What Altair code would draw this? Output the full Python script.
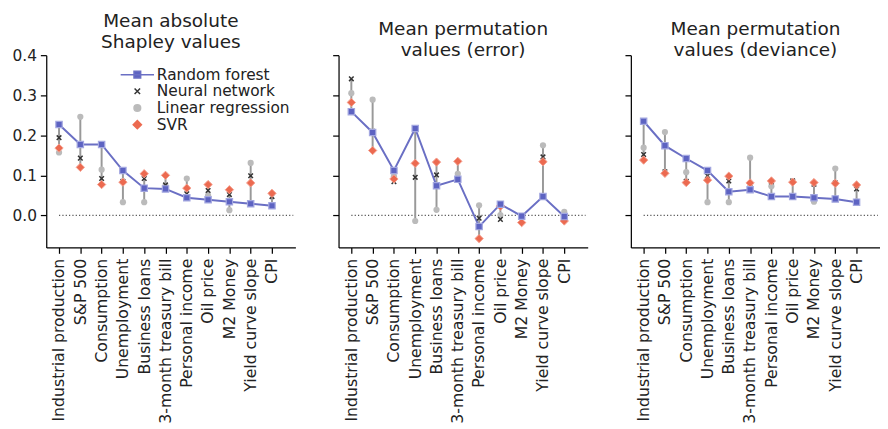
import altair as alt
import pandas as pd

FEATURES = ["Industrial production", "S&P 500", "Consumption", "Unemployment",
            "Business loans", "3-month treasury bill", "Personal income",
            "Oil price", "M2 Money", "Yield curve slope", "CPI"]
MODELS = ["Random forest", "Neural network", "Linear regression", "SVR"]
TITLES = [["Mean absolute", "Shapley values"],
          ["Mean permutation", "values (error)"],
          ["Mean permutation", "values (deviance)"]]
Y_TICKS = [0.0, 0.1, 0.2, 0.3, 0.4]

# Panel 1: mean absolute Shapley values
SHAP_RF = [0.227, 0.177, 0.177, 0.112, 0.068, 0.066, 0.044, 0.039, 0.034, 0.029, 0.024]
SHAP_NN = [0.194, 0.143, 0.092, 0.085, 0.092, 0.076, 0.054, 0.062, 0.052, 0.099, 0.047]
SHAP_LR = [0.157, 0.246, 0.114, 0.033, 0.033, 0.074, 0.092, 0.050, 0.013, 0.131, 0.025]
SHAP_SVR = [0.168, 0.120, 0.077, 0.083, 0.104, 0.100, 0.068, 0.077, 0.064, 0.081, 0.055]

# Panel 2: mean permutation values (error)
ERR_RF = [0.259, 0.207, 0.112, 0.217, 0.074, 0.090, -0.028, 0.028, -0.002, 0.047, -0.003]
ERR_NN = [0.341, 0.210, 0.084, 0.095, 0.101, 0.091, -0.007, -0.010, -0.003, 0.146, -0.002]
ERR_LR = [0.305, 0.289, 0.098, -0.014, 0.014, 0.104, 0.025, 0.001, -0.002, 0.175, 0.009]
ERR_SVR = [0.282, 0.162, 0.091, 0.130, 0.133, 0.135, -0.058, 0.023, -0.018, 0.134, -0.014]

# Panel 3: mean permutation values (deviance)
DEV_RF = [0.235, 0.174, 0.142, 0.112, 0.059, 0.064, 0.047, 0.047, 0.044, 0.041, 0.033]
DEV_NN = [0.152, 0.109, 0.085, 0.099, 0.086, 0.078, 0.084, 0.086, 0.078, 0.081, 0.066]
DEV_LR = [0.169, 0.208, 0.108, 0.033, 0.033, 0.144, 0.073, 0.047, 0.034, 0.117, 0.035]
DEV_SVR = [0.138, 0.105, 0.082, 0.088, 0.098, 0.081, 0.086, 0.083, 0.082, 0.080, 0.076]

PANEL_DATA = [
    [SHAP_RF, SHAP_NN, SHAP_LR, SHAP_SVR],
    [ERR_RF, ERR_NN, ERR_LR, ERR_SVR],
    [DEV_RF, DEV_NN, DEV_LR, DEV_SVR],
]

RF_COLOR = "#6a6fc4"
NN_COLOR = "#333333"
LR_COLOR = "#bbbbbb"
SVR_COLOR = "#ec6a50"
FONT = "DejaVu Sans"

label_expr = "[" + ",".join("'" + f + "'" for f in FEATURES) + "][datum.value]"


def make_panel(p):
    rows = []
    for m, series in zip(MODELS, PANEL_DATA[p]):
        for i, v in enumerate(series):
            rows.append({"idx": i, "model": m, "value": v})
    df = pd.DataFrame(rows)

    x_axis = alt.Axis(values=list(range(len(FEATURES))), labelExpr=label_expr,
                      labelAngle=270, labelAlign="right", labelBaseline="middle",
                      labelFontSize=16, labelPadding=5, title=None, grid=False)
    if p == 0:
        y_axis = alt.Axis(values=Y_TICKS, format=".1f", title=None, grid=False)
    else:
        y_axis = alt.Axis(values=Y_TICKS, labels=False, title=None, grid=False)

    xs = alt.Scale(domain=[-0.6, 11.1], nice=False, zero=False)
    ys = alt.Scale(domain=[-0.08, 0.4], nice=False, zero=False)

    base = alt.Chart(df)

    zero = base.transform_aggregate(
        x0="min(idx)", x1="max(idx)"
    ).transform_calculate(x1e="datum.x1 + 1").mark_rule(
        color="#555555", strokeWidth=1.2, strokeDash=[1.2, 2.2]
    ).encode(
        x=alt.X("x0:Q", scale=xs, axis=x_axis),
        x2="x1e:Q",
        y=alt.datum(0, scale=ys, axis=y_axis),
    )

    rng = base.transform_aggregate(
        lo="min(value)", hi="max(value)", groupby=["idx"]
    ).mark_rule(color="#999999", strokeWidth=2).encode(
        x=alt.X("idx:Q", scale=xs, axis=x_axis),
        y=alt.Y("lo:Q", scale=ys, axis=y_axis),
        y2="hi:Q",
    )

    def enc():
        return dict(x=alt.X("idx:Q", scale=xs, axis=x_axis),
                    y=alt.Y("value:Q", scale=ys, axis=y_axis))

    rf = base.transform_filter(alt.datum.model == "Random forest")
    line = rf.mark_line(color=RF_COLOR, strokeWidth=2).encode(**enc())
    lr = base.transform_filter(alt.datum.model == "Linear regression").mark_point(
        shape="circle", filled=True, size=40, color=LR_COLOR, opacity=1).encode(**enc())
    nn = base.transform_filter(alt.datum.model == "Neural network").mark_point(
        shape="M-1,-1L1,1M1,-1L-1,1", filled=False, size=22, color=NN_COLOR,
        strokeWidth=1.5, opacity=1).encode(**enc())
    svr = base.transform_filter(alt.datum.model == "SVR").mark_point(
        shape="diamond", filled=True, size=72, fill=SVR_COLOR, stroke="#f4a090",
        strokeWidth=1, opacity=1).encode(**enc())
    rfp = rf.mark_point(shape="square", filled=True, size=42, fill="#5d63c2",
                        stroke="#a3a7e0", strokeWidth=1.2, opacity=1).encode(**enc())

    layers = [zero, rng, line, lr, nn, svr, rfp]

    if p == 0:
        paths = ["M-4.25,0H4.25M-0.85,-0.85H0.85V0.85H-0.85Z",
                 "M-0.7,-0.7L0.7,0.7M0.7,-0.7L-0.7,0.7",
                 "M0.85,0A0.85 0.85 0 1 1 -0.85,0A0.85 0.85 0 1 1 0.85,0Z",
                 "M0,-1.05L1.05,0L0,1.05L-1.05,0Z"]
        fills = ["#5d63c2", "transparent", LR_COLOR, SVR_COLOR]
        strokes = [RF_COLOR, NN_COLOR, LR_COLOR, SVR_COLOR]
        leg = alt.Legend(title=None, orient="none", legendX=85, legendY=12,
                         symbolSize=64, symbolStrokeWidth=1.5, symbolOpacity=1,
                         labelFont=FONT, labelFontSize=15.7, labelColor="#222222",
                         labelOffset=12, rowPadding=0, padding=0)
        legend_layer = base.transform_filter("false").mark_point(opacity=1).encode(
            x=alt.X("idx:Q", scale=xs, axis=x_axis),
            y=alt.Y("value:Q", scale=ys, axis=y_axis),
            shape=alt.Shape("model:N", scale=alt.Scale(domain=MODELS, range=paths), legend=leg),
            fill=alt.Fill("model:N", scale=alt.Scale(domain=MODELS, range=fills), legend=leg),
            stroke=alt.Stroke("model:N", scale=alt.Scale(domain=MODELS, range=strokes), legend=leg),
        )
        layers.append(legend_layer)

    return alt.layer(*layers).properties(
        width=254, height=196,
        title=alt.TitleParams(text=TITLES[p], font=FONT, fontSize=18.8,
                              fontWeight="normal", anchor="middle", color="#222222",
                              lineHeight=21.5, offset=-5),
    )


chart = alt.hconcat(*[make_panel(p) for p in range(3)], spacing=37).resolve_scale(
    shape="independent", fill="independent", stroke="independent"
).resolve_legend(
    shape="independent", fill="independent", stroke="independent"
).configure_view(stroke=None).configure_axis(
    domainColor="#000000", domainWidth=1.25, tickColor="#000000", tickWidth=1.25,
    tickSize=6, labelFont=FONT, labelFontSize=15.7, labelColor="#222222",
    labelPadding=4, grid=False,
).properties(padding={"left": 4, "top": 0, "right": 0, "bottom": 0})

chart.save("out.html", embed_options={"renderer": "svg", "actions": False})
